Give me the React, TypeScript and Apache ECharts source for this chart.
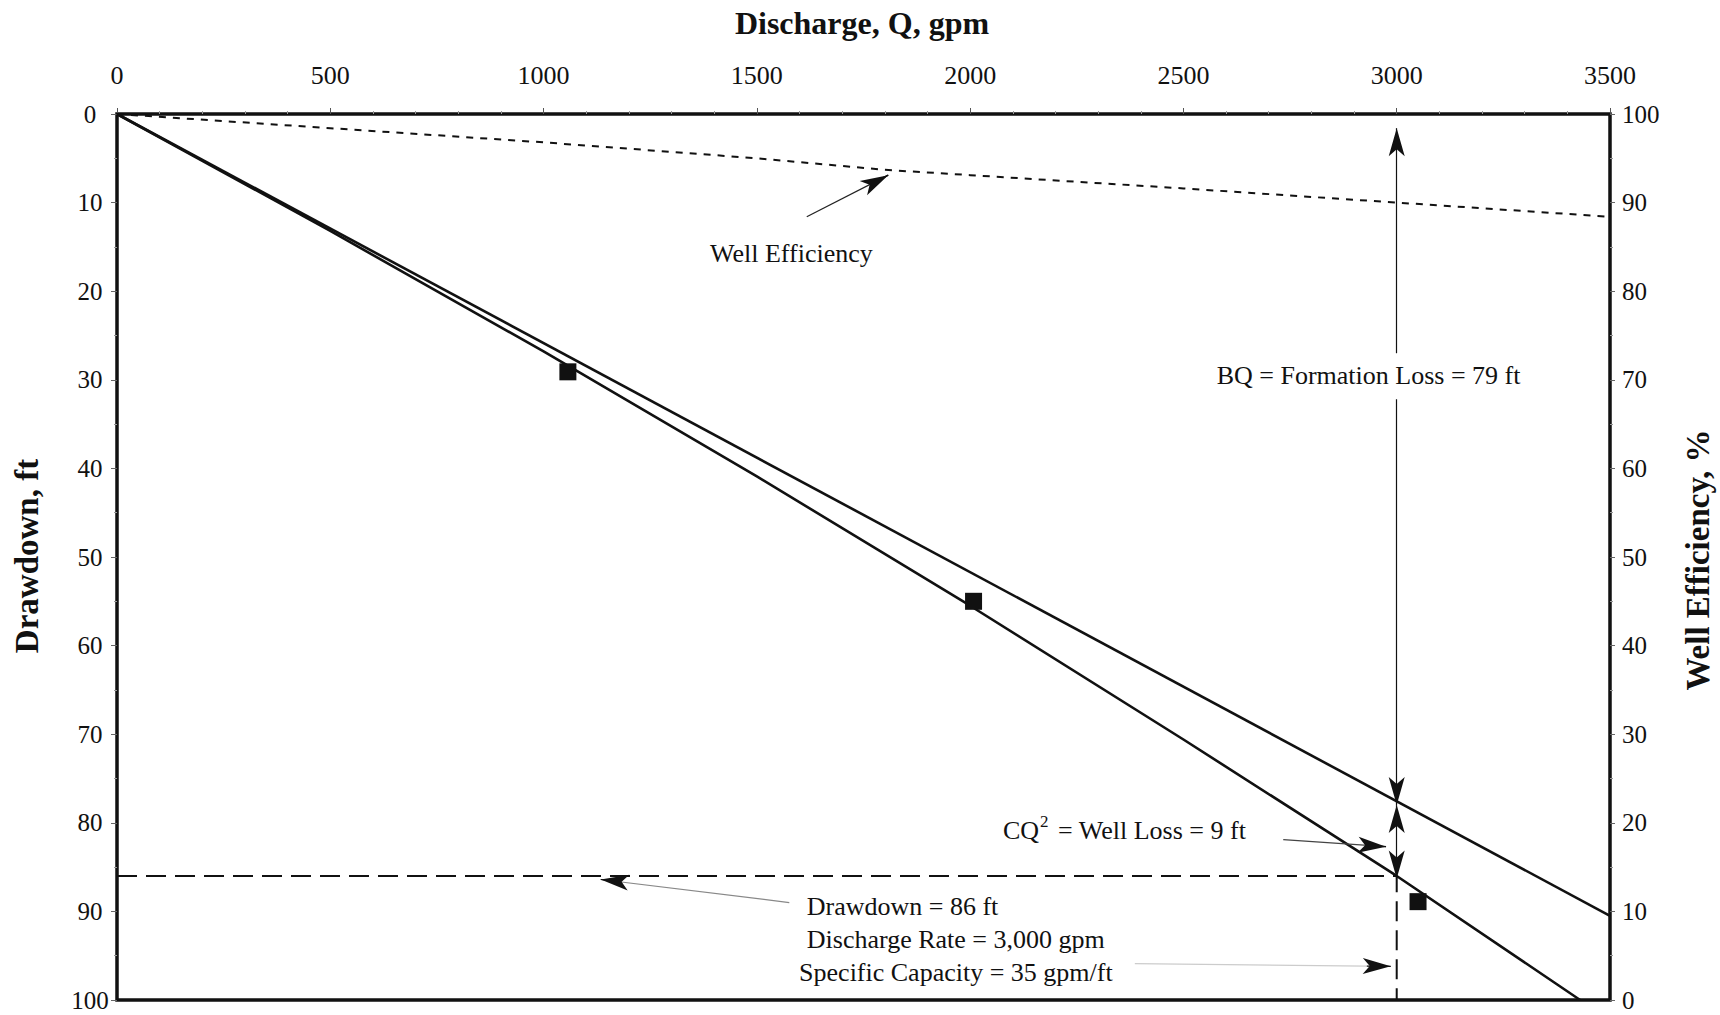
import React, { useEffect, useRef } from "react";
import * as echarts from "echarts";

// ---- Data ----
// Total drawdown curve s = BQ + CQ^2 (ft) vs discharge (gpm)
const totalQ = [0, 500, 1000, 1500, 2000, 2500, 3000, 3430];
const totalDrawdown = [0, 13.2, 26.8, 40.9, 55.5, 70.6, 86.0, 100];
// Formation loss line BQ (ft)
const formationQ = [0, 3500];
const formationDrawdown = [0, 90.5];
// Well efficiency (%) on right axis
const efficiencyQ = [0, 500, 1000, 1500, 1800, 2000, 2500, 3000, 3500];
const efficiencyPct = [100, 98.4, 96.8, 95.0, 93.7, 93.1, 91.6, 90.0, 88.4];
// Measured step-test points
const measuredQ = [1057, 2008, 3050];
const measuredDrawdown = [29.1, 55.0, 88.9];
// Design point guide (dashed)
const guideQ = [0, 3000, 3000];
const guideDrawdown = [86, 86, 100];
// Axis definitions
const qMin = 0, qMax = 3500, qStep = 500;
const sMin = 0, sMax = 100, sStep = 10;
const effMin = 0, effMax = 100, effStep = 10;

const SERIF = "'Liberation Serif', 'Times New Roman', serif";
const INK = "#111";

const zip = (a: number[], b: number[]) => a.map((v, i) => [v, b[i]]);

const arrow = (from: number[], to: number[], startArrow: boolean, endArrow: boolean, color = INK) => [
  { coord: from, symbol: startArrow ? "arrow" : "none", lineStyle: { color, width: 1.2 } },
  { coord: to, symbol: endArrow ? "arrow" : "none" },
];

export default function App() {
  const ref = useRef<HTMLDivElement>(null);

  useEffect(() => {
    document.body.style.margin = "0";
    if (!ref.current) return;
    const chart = echarts.init(ref.current, undefined, { renderer: "svg" });

    const option: any = {
      animation: false,
      backgroundColor: "#fff",
      grid: {
        left: 117,
        top: 114,
        width: 1493,
        height: 886,
        show: true,
        borderWidth: 3.5,
        borderColor: INK,
        backgroundColor: "transparent",
      },
      xAxis: {
        type: "value",
        position: "top",
        min: qMin,
        max: qMax,
        interval: qStep,
        axisLine: { show: false },
        axisTick: { show: true, length: 6, lineStyle: { color: "#555", width: 1 } },
        minorTick: { show: true, splitNumber: 5, length: 3, lineStyle: { color: "#999" } },
        axisLabel: {
          margin: 26,
          fontFamily: SERIF,
          fontSize: 26,
          color: INK,
          formatter: (v: number) => String(v),
        },
        splitLine: { show: false },
      },
      yAxis: [
        {
          type: "value",
          position: "left",
          inverse: true,
          min: sMin,
          max: sMax,
          interval: sStep,
          axisLine: { show: false },
          axisTick: { show: true, length: 6, lineStyle: { color: "#666", width: 1 } },
          minorTick: { show: true, splitNumber: 2, length: 3, lineStyle: { color: "#999" } },
          axisLabel: { margin: 27, align: "center", fontFamily: SERIF, fontSize: 25, color: INK },
          splitLine: { show: false },
        },
        {
          type: "value",
          position: "right",
          min: effMin,
          max: effMax,
          interval: effStep,
          axisLine: { show: false },
          axisTick: { show: true, length: 5, lineStyle: { color: "#666", width: 1 } },
          minorTick: { show: true, splitNumber: 2, length: 3, lineStyle: { color: "#999" } },
          axisLabel: { margin: 12, align: "left", fontFamily: SERIF, fontSize: 25, color: INK },
          splitLine: { show: false },
        },
      ],
      series: [
        {
          name: "Formation Loss",
          type: "line",
          data: zip(formationQ, formationDrawdown),
          showSymbol: false,
          symbol: "none",
          lineStyle: { color: INK, width: 2.6 },
          z: 3,
        },
        {
          name: "Total Drawdown",
          type: "line",
          data: zip(totalQ, totalDrawdown),
          showSymbol: false,
          symbol: "none",
          lineStyle: { color: INK, width: 2.6 },
          z: 3,
          markLine: {
            silent: true,
            animation: false,
            symbol: ["none", "none"],
            symbolSize: [12, 28],
            label: { show: false },
            lineStyle: { color: INK, width: 1.2, type: "solid" },
            itemStyle: { color: INK },
            data: [
              // BQ double arrow (broken behind the label)
              arrow([3000, 1.6], [3000, 27.0], true, false),
              arrow([3000, 32.2], [3000, 78], false, true),
              // CQ^2 double arrow
              arrow([3000, 78], [3000, 86.3], true, true),
              // Well loss pointer
              arrow([2734, 81.9], [2975, 82.7], false, false, "#444"),
              arrow([2930, 82.55], [2975, 82.7], false, true),
              // Drawdown pointer
              arrow([1576, 89.0], [1134, 86.4], false, false, "#888"),
              arrow([1180, 86.65], [1134, 86.4], false, true),
              // Specific capacity pointer
              arrow([2386, 95.9], [2986, 96.2], false, false, "#ccc"),
              arrow([2930, 96.17], [2986, 96.2], false, true),
              // Well efficiency pointer
              arrow([1617, 11.6], [1808, 6.9], false, false, "#222"),
              arrow([1790, 7.35], [1808, 6.9], false, true),
            ],
          },
        },
        {
          name: "Well Efficiency",
          type: "line",
          yAxisIndex: 1,
          data: zip(efficiencyQ, efficiencyPct),
          showSymbol: false,
          symbol: "none",
          lineStyle: { color: INK, width: 2, type: [7, 7] },
          z: 3,
        },
        {
          name: "Design",
          type: "line",
          data: zip(guideQ, guideDrawdown),
          showSymbol: false,
          symbol: "none",
          lineStyle: { color: INK, width: 2, type: [20, 9] },
          z: 2,
        },
        {
          name: "Measured",
          type: "scatter",
          data: zip(measuredQ, measuredDrawdown),
          symbol: "rect",
          symbolSize: 17,
          itemStyle: { color: INK, opacity: 1 },
          z: 5,
        },
      ],
    };

    chart.setOption(option);

    const px = (q: number, s: number) =>
      chart.convertToPixel({ xAxisIndex: 0, yAxisIndex: 0 }, [q, s]) as number[];

    const textStyle = (text: string, align: string, extra: any = {}) => ({
      text,
      fontFamily: SERIF,
      fontSize: 26,
      fill: INK,
      align,
      textAlign: align,
      verticalAlign: "middle",
      textVerticalAlign: "middle",
      ...extra,
    });

    const t = (text: string, q: number, s: number, align = "left", extra: any = {}) => {
      const [x, y] = px(q, s);
      return { type: "text", x, y, z: 10, style: textStyle(text, align, extra) };
    };

    const [cqx, cqy] = px(2077, 80.9);
    const [bqx, bqy] = px(2934, 29.5);

    const title = (text: string, x: number, y: number, size: number, rotation = 0) => ({
      type: "text",
      x,
      y,
      rotation,
      style: {
        text,
        fontFamily: SERIF,
        fontWeight: "bold",
        fontSize: size,
        fill: INK,
        align: "center",
        textAlign: "center",
        verticalAlign: "middle",
        textVerticalAlign: "middle",
      },
    });

    chart.setOption({
      graphic: [
        title("Discharge, Q, gpm", 862, 23, 32),
        title("Drawdown, ft", 27, 556, 33, Math.PI / 2),
        title("Well Efficiency, %", 1698, 560, 33, Math.PI / 2),
        t("Well Efficiency", 1581, 15.7, "center"),
        {
          type: "text",
          x: bqx,
          y: bqy,
          z: 10,
          style: textStyle("BQ = Formation Loss = 79 ft", "center"),
        },
        {
          type: "text",
          x: cqx,
          y: cqy,
          z: 10,
          style: {
            text: "{b|CQ}{s|2}{b| = Well Loss = 9 ft}",
            fontFamily: SERIF,
            fontSize: 26,
            fill: INK,
            align: "left",
            textAlign: "left",
            verticalAlign: "middle",
            textVerticalAlign: "middle",
            rich: {
              b: { fontFamily: SERIF, fontSize: 26, fill: INK, lineHeight: 36 },
              s: { fontFamily: SERIF, fontSize: 17, fill: INK, lineHeight: 18, verticalAlign: "top", padding: [0, 3, 0, 1] },
            },
          },
        },
        t("Drawdown = 86 ft", 1617, 89.5),
        t("Discharge Rate = 3,000 gpm", 1617, 93.2),
        t("Specific Capacity = 35 gpm/ft", 1599, 96.9),
      ],
    });

    return () => chart.dispose();
  }, []);

  return <div ref={ref} style={{ width: 1720, height: 1015 }} />;
}
